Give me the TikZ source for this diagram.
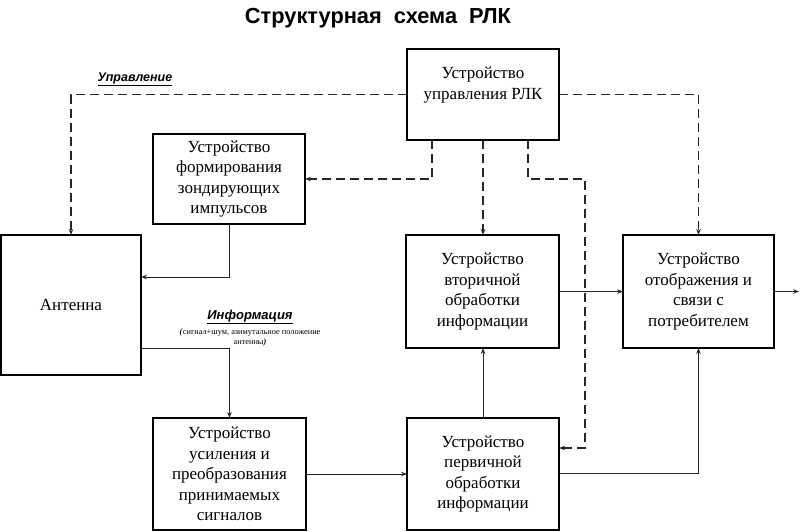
\documentclass[tikz,border=0pt]{standalone}
\usepackage{fontspec}
\usepackage{graphicx}
\setmainfont{Liberation Serif}
\newfontfamily\arialf{Liberation Sans}
\usetikzlibrary{arrows.meta}
\begin{document}
\begin{tikzpicture}[x=1pt,y=-1pt,
  box/.style={draw, line width=1.1pt, inner sep=0pt, outer sep=0pt},
  btext/.style={align=center, inner sep=0pt, font=\fontsize{17}{20.5}\selectfont},
  conn/.style={line width=0.9pt, draw=black!85},
  arr/.style={conn, -{Stealth[length=6pt,width=4.5pt]}},
  dsh/.style={line width=1.4pt, draw=black!85, dash pattern=on 9pt off 5pt},
  darr/.style={dsh, -{Stealth[length=6pt,width=4.5pt]}}
]
\useasboundingbox (0,0) rectangle (801,531);

% title
\node[font=\arialf\bfseries\fontsize{21.8}{24}\selectfont] (title) at (378,18.5) {Структурная\ \ схема\ \ РЛК};

% boxes
\node[box, minimum width=152pt, minimum height=91pt] (upr) at (483,94.5) {};
\node[btext] (uprt) at (483,85) {Устройство\\управления РЛК};
\node[box, btext, minimum width=152pt, minimum height=90pt] (form) at (229,179) {Устройство\\формирования\\зондирующих\\импульсов};
\node[box, btext, minimum width=140pt, minimum height=140pt] (ant) at (71,305) {Антенна};
\node[box, btext, minimum width=153pt, minimum height=113pt] (vtor) at (482.5,291.5) {Устройство\\вторичной\\обработки\\информации};
\node[box, btext, minimum width=151pt, minimum height=113pt] (disp) at (698.5,291.5) {Устройство\\отображения и\\связи с\\потребителем};
\node[box, btext, minimum width=153pt, minimum height=112pt] (usil) at (229.5,474) {Устройство\\усиления и\\преобразования\\принимаемых\\сигналов};
\node[box, btext, minimum width=152pt, minimum height=112pt] (perv) at (483,474) {Устройство\\первичной\\обработки\\информации};

% labels
\node[font=\arialf\bfseries\itshape\fontsize{12.5}{14}\selectfont, inner sep=0pt] (lupr) at (135,79) {\underline{Управление}};
\node[font=\arialf\bfseries\itshape\fontsize{13}{15}\selectfont, inner sep=0pt] (linf) at (250,317) {\underline{Информация}};
\node[align=center, inner sep=0pt, font=\fontsize{8.3}{10}\selectfont] (lsig) at (250,337) {\textbf{\textit{(}}сигнал+шум, азимутальное положение\\антенны\textbf{\textit{)}}};

% coordinates
\coordinate (c1) at (585,179);
\coordinate (c2) at (585,448);
\coordinate (out) at (799,291.5);

% dashed control lines
\draw[darr] (upr.west) -| (ant.north);
\draw[darr] (upr.east) -| (disp.north);
\draw[darr] ([xshift=-51pt]upr.south) |- (form.east);
\draw[darr] (upr.south) -- (upr.south |- vtor.north);
\draw[darr] ([xshift=45pt]upr.south) |- (c1) -- (c2) -- (c2 -| perv.east);

% solid signal lines
\draw[arr] (form.south) |- ([yshift=28pt]ant.east);
\draw[arr] ([yshift=-43pt]ant.east) -| (usil.north);
\draw[arr] (usil.east) -- (perv.west);
\draw[arr] (perv.north) -- (perv.north |- vtor.south);
\draw[arr] (vtor.east) -- (disp.west);
\draw[arr] ([yshift=1pt]perv.east) -| (disp.south);
\draw[arr] (disp.east) -- (out);
\end{tikzpicture}
\end{document}
